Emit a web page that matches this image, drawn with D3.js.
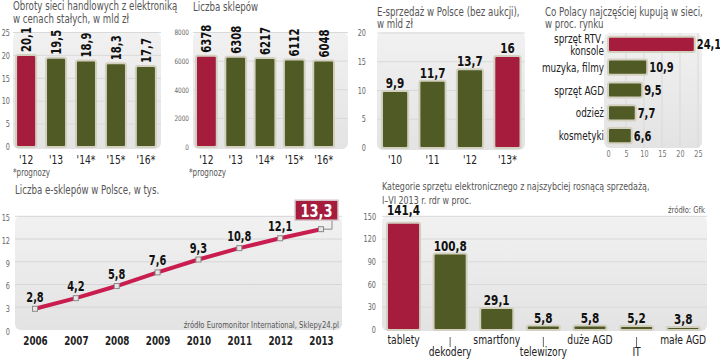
<!DOCTYPE html>
<html><head><meta charset="utf-8">
<script src="https://cdn.jsdelivr.net/npm/d3@7"></script>
<style>
html,body{margin:0;padding:0;background:#fff;}
svg{display:block;}
</style></head>
<body>
<script>
// ---- data ----
const turnoverYears = ["'12", "'13", "'14*", "'15*", "'16*"];
const turnoverValues = [20.1, 19.5, 18.9, 18.3, 17.7];
const turnoverTicks = [0, 5, 10, 15, 20, 25];

const storeYears = ["'12", "'13", "'14*", "'15*", "'16*"];
const storeValues = [6378, 6308, 6217, 6112, 6048];
const storeTicks = [0, 2000, 4000, 6000, 8000];

const esalesYears = ["'10", "'11", "'12", "'13*"];
const esalesValues = [9.9, 11.7, 13.7, 16];
const esalesTicks = [0, 5, 10, 15, 20];

const buyCategories = ["sprzęt RTV,\nkonsole", "muzyka, filmy", "sprzęt AGD", "odzież", "kosmetyki"];
const buyValues = [24.1, 10.9, 9.5, 7.7, 6.6];
const buyTicks = [0, 5, 10, 15, 20, 25];

const shopYears = ["2006", "2007", "2008", "2009", "2010", "2011", "2012", "2013"];
const shopValues = [2.8, 4.2, 5.8, 7.6, 9.3, 10.8, 12.1, 13.3];
const shopTicks = [0, 3, 6, 9, 12, 15];

const growthCategories = ["tablety", "dekodery", "smartfony", "telewizory", "duże AGD", "IT", "małe AGD"];
const growthValues = [141.4, 100.8, 29.1, 5.8, 5.8, 5.2, 3.8];
const growthTicks = [0, 30, 60, 90, 120, 150];

// ---- style ----
const FONT = "'DejaVu Sans Condensed','Liberation Sans Narrow',sans-serif";
const RED = "#a51c3c";
const GREEN = "#4f5a25";
const LINE_RED = "#c81d4e";
const BAR_STROKE = "#d3d0c0";
const fmt = v => String(v).replace(".", ",");

const svg = d3.select("body").append("svg")
  .attr("width", 720).attr("height", 360)
  .style("font-family", FONT);

// horizontally condense text (narrow newspaper face)
function squeeze(sel, k) {
  sel.each(function () {
    const w = this.getComputedTextLength();
    if (w > 0) d3.select(this).attr("textLength", w * k).attr("lengthAdjust", "spacingAndGlyphs");
  });
}

const defs = svg.append("defs");
const grad = defs.append("linearGradient").attr("id", "bgGrad")
  .attr("x1", 0).attr("y1", 0).attr("x2", 0).attr("y2", 1);
grad.append("stop").attr("offset", "0%").attr("stop-color", "#f1f1f1");
grad.append("stop").attr("offset", "100%").attr("stop-color", "#e3e3e3");

function title(lines, x, y0, lh, size) {
  lines.forEach((t, i) => {
    const el = svg.append("text").attr("x", x).attr("y", y0 + i * lh)
      .attr("font-size", size || 12).attr("fill", "#555").text(t);
    squeeze(el, 0.8);
  });
}

function note(txt, x, y, anchor, size, k) {
  const el = svg.append("text").attr("x", x).attr("y", y).attr("text-anchor", anchor)
    .attr("font-size", size).attr("fill", "#555").text(txt);
  squeeze(el, k);
}

function bg(x0, y0, x1, y1) {
  svg.append("rect").attr("x", x0).attr("y", y0)
    .attr("width", x1 - x0).attr("height", y1 - y0)
    .attr("rx", 6).attr("fill", "url(#bgGrad)");
}

function styleAxis(g, size, color, weight, k) {
  g.select(".domain").remove();
  const t = g.selectAll("text").attr("font-size", size).attr("fill", color)
    .attr("font-weight", weight || "normal").style("font-family", FONT);
  squeeze(t, k || 0.85);
}

function vbars(cfg) {
  const x = d3.scaleBand().domain(cfg.cats).range(cfg.xr)
    .paddingInner(cfg.pi).paddingOuter(cfg.po);
  const y = d3.scaleLinear().domain([0, cfg.max]).range(cfg.yr);
  bg(cfg.bg[0], cfg.bg[1], cfg.bg[2], cfg.bg[3]);
  svg.append("g").selectAll("line").data(cfg.ticks.filter(t => t > 0)).join("line")
    .attr("x1", cfg.bg[0]).attr("x2", cfg.bg[2])
    .attr("y1", d => y(d)).attr("y2", d => y(d))
    .attr("stroke", "#d9d9d9").attr("stroke-width", 1);
  const ya = svg.append("g").attr("transform", `translate(${cfg.tickX},0)`)
    .call(d3.axisLeft(y).tickValues(cfg.ticks).tickSize(0).tickPadding(0).tickFormat(d => d));
  styleAxis(ya, cfg.tickSize || 8.5, "#666", "normal", 0.85);
  svg.append("g").selectAll("rect").data(cfg.vals).join("rect")
    .attr("x", (d, i) => x(cfg.cats[i]))
    .attr("y", d => y(d))
    .attr("width", x.bandwidth())
    .attr("height", d => y(0) - y(d))
    .attr("rx", 2)
    .attr("fill", (d, i) => i === cfg.hi ? RED : GREEN)
    .attr("stroke", BAR_STROKE).attr("stroke-width", 2);
  const lab = svg.append("g").selectAll("text").data(cfg.vals).join("text")
    .attr("font-weight", "bold").attr("fill", "#111")
    .attr("font-size", cfg.labelSize).text(d => fmt(d));
  if (cfg.vertical) {
    lab.attr("transform", (d, i) =>
      `translate(${x(cfg.cats[i]) + x.bandwidth() / 2 + 5},${y(d) - 3}) rotate(-90)`)
      .attr("text-anchor", "start");
  } else {
    const top = cfg.bg[1];
    lab.attr("x", (d, i) => x(cfg.cats[i]) + x.bandwidth() / 2)
      .attr("y", d => (y(d) - 3 - 12 < top ? top - 1 : y(d) - 3))
      .attr("text-anchor", "middle");
  }
  squeeze(lab, 0.8);
  const xa = svg.append("g").attr("transform", `translate(0,${cfg.xLabelY})`)
    .call(d3.axisBottom(x).tickSize(0).tickPadding(0));
  styleAxis(xa, cfg.xLabelSize || 12, "#222", "normal", 0.85);
  return { x, y, xa };
}

// ---- panel 1 ----
title(["Obroty sieci handlowych z elektroniką", "w cenach stałych, w mld zł"], 13, 10, 13);
vbars({
  cats: turnoverYears, vals: turnoverValues, ticks: turnoverTicks, max: 25,
  xr: [11, 161], pi: 0.33, po: 0.17, yr: [147, 32.5],
  bg: [13, 32, 161, 149], tickX: 10, hi: 0, vertical: true, labelSize: 14,
  xLabelY: 155
});
note("*prognozy", 13, 176, "start", 10, 0.8);

// ---- panel 2 ----
title(["Liczba sklepów"], 193, 11, 13);
vbars({
  cats: storeYears, vals: storeValues, ticks: storeTicks, max: 8000,
  xr: [191, 339], pi: 0.29, po: 0.17, yr: [147, 32.5],
  bg: [193, 32, 348, 149], tickX: 189, hi: 0, vertical: true, labelSize: 14,
  xLabelY: 155, tickSize: 7.5
});
note("*prognozy", 189, 176, "start", 10, 0.8);

// ---- panel 3 ----
title(["E-sprzedaż w Polsce (bez aukcji),", "w mld zł"], 377, 15.5, 12);
vbars({
  cats: esalesYears, vals: esalesValues, ticks: esalesTicks, max: 20,
  xr: [374.5, 528], pi: 0.3, po: 0.2, yr: [148, 33],
  bg: [377, 32, 525, 150], tickX: 366, hi: 3, vertical: false, labelSize: 14.5,
  xLabelY: 155
});

// ---- panel 4 (horizontal) ----
title(["Co Polacy najczęściej kupują w sieci,", "w proc. rynku"], 545, 15.5, 12);
{
  const x = d3.scaleLinear().domain([0, 25]).range([608, 698]);
  const y = d3.scaleBand().domain(buyCategories).range([33, 147]).paddingInner(0.33).paddingOuter(0.17);
  bg(604, 33, 702, 148);
  svg.append("g").selectAll("line").data(buyTicks.filter(t => t > 0)).join("line")
    .attr("x1", d => x(d)).attr("x2", d => x(d)).attr("y1", 33).attr("y2", 148)
    .attr("stroke", "#d9d9d9");
  const xa = svg.append("g").attr("transform", "translate(0,151)")
    .call(d3.axisBottom(x).tickValues(buyTicks).tickSize(0).tickPadding(0));
  styleAxis(xa, 8.5, "#777", "normal", 0.85);
  svg.append("g").selectAll("rect").data(buyValues).join("rect")
    .attr("x", x(0)).attr("y", (d, i) => y(buyCategories[i]))
    .attr("width", d => x(d) - x(0)).attr("height", y.bandwidth())
    .attr("rx", 2)
    .attr("fill", (d, i) => i === 0 ? RED : GREEN)
    .attr("stroke", BAR_STROKE).attr("stroke-width", 2);
  const vl = svg.append("g").selectAll("text").data(buyValues).join("text")
    .attr("x", d => x(d) + 2).attr("y", (d, i) => y(buyCategories[i]) + y.bandwidth() / 2 + 5)
    .attr("font-weight", "bold").attr("font-size", 14.5).attr("fill", "#111")
    .text(d => fmt(d));
  squeeze(vl, 0.76);
  buyCategories.forEach(c => {
    const lines = c.split("\n");
    const cy = y(c) + y.bandwidth() / 2;
    const t = svg.append("text").attr("text-anchor", "end").attr("font-size", 12)
      .attr("fill", "#222");
    lines.forEach((l, j) => {
      const ts = t.append("tspan").attr("x", 604)
        .attr("y", cy + 4.5 + (j - (lines.length - 1) / 2) * 12).text(l);
      squeeze(ts, 0.82);
    });
  });
}

// ---- panel 5 (line) ----
title(["Liczba e-sklepów w Polsce, w tys."], 15, 194, 13);
{
  const x = d3.scalePoint().domain(shopYears).range([35, 321]);
  const y = d3.scaleLinear().domain([0, 15]).range([330, 216.3]);
  bg(15, 216, 342, 330);
  svg.append("g").selectAll("line").data(shopTicks.filter(t => t > 0)).join("line")
    .attr("x1", 15).attr("x2", 342).attr("y1", d => y(d)).attr("y2", d => y(d))
    .attr("stroke", "#d6d6d6");
  const ya = svg.append("g").attr("transform", "translate(10,1.5)")
    .call(d3.axisLeft(y).tickValues(shopTicks).tickSize(0).tickPadding(0));
  styleAxis(ya, 8.5, "#666", "normal", 0.85);
  const xa = svg.append("g").attr("transform", "translate(0,336)")
    .call(d3.axisBottom(x).tickSize(0).tickPadding(0));
  styleAxis(xa, 13, "#222", "bold", 0.75);
  svg.append("path").datum(shopValues)
    .attr("d", d3.line().x((d, i) => x(shopYears[i])).y(d => y(d)))
    .attr("fill", "none").attr("stroke", LINE_RED).attr("stroke-width", 4)
    .attr("stroke-linejoin", "round");
  svg.append("g").selectAll("rect").data(shopValues).join("rect")
    .attr("x", (d, i) => x(shopYears[i]) - 2.5).attr("y", d => y(d) - 2.5)
    .attr("width", 5).attr("height", 5)
    .attr("fill", "#e6e6e6").attr("stroke", "#8a8a8a").attr("stroke-width", 1);
  const last = shopValues.length - 1;
  const pl = svg.append("g").selectAll("text").data(shopValues.slice(0, last)).join("text")
    .attr("x", (d, i) => x(shopYears[i])).attr("y", d => y(d) - 7)
    .attr("text-anchor", "middle").attr("font-weight", "bold").attr("font-size", 14)
    .attr("fill", "#111").text(d => fmt(d));
  squeeze(pl, 0.78);
  const px = x(shopYears[last]), py = y(shopValues[last]);
  svg.append("path")
    .attr("d", `M${px + 2},${py}H${px + 11}V${py - 9}`)
    .attr("fill", "none").attr("stroke", "#888").attr("stroke-width", 1);
  svg.append("rect").attr("x", px - 26).attr("y", py - 29).attr("width", 43).attr("height", 20)
    .attr("fill", RED).attr("stroke", "#d8c8cc").attr("stroke-width", 1.5);
  const bl = svg.append("text").attr("x", px - 4.5).attr("y", py - 12.5).attr("text-anchor", "middle")
    .attr("font-weight", "bold").attr("font-size", 17).attr("fill", "#fff")
    .text(fmt(shopValues[last]));
  squeeze(bl, 0.85);
  note("źródło Euromonitor International, Sklepy24.pl", 339, 328, "end", 9.5, 0.8);
}

// ---- panel 6 ----
title(["Kategorie sprzętu elektronicznego z najszybciej rosnącą  sprzedażą,", "I–VI 2013 r. rdr w proc."], 382, 190, 13.5, 11);
note("źródło: Gfk", 705, 213, "end", 9.5, 0.8);
{
  const r = vbars({
    cats: growthCategories, vals: growthValues, ticks: growthTicks, max: 150,
    xr: [380, 706.7], pi: 0.29, po: 0.15, yr: [330, 216.3],
    bg: [382, 216, 707, 331], tickX: 376, hi: 0, vertical: false, labelSize: 14.5,
    xLabelY: 335
  });
  r.xa.selectAll(".tick").each(function (d, i) {
    const t = d3.select(this);
    if (i % 2 === 1) {
      t.select("text").attr("dy", "1.75em");
      t.append("line").attr("x1", 0).attr("x2", 0).attr("y1", 2).attr("y2", 12)
        .attr("stroke", "#666").attr("stroke-width", 1);
    } else {
      t.select("text").attr("dy", "0.71em");
    }
  });
}
</script>
</body></html>
